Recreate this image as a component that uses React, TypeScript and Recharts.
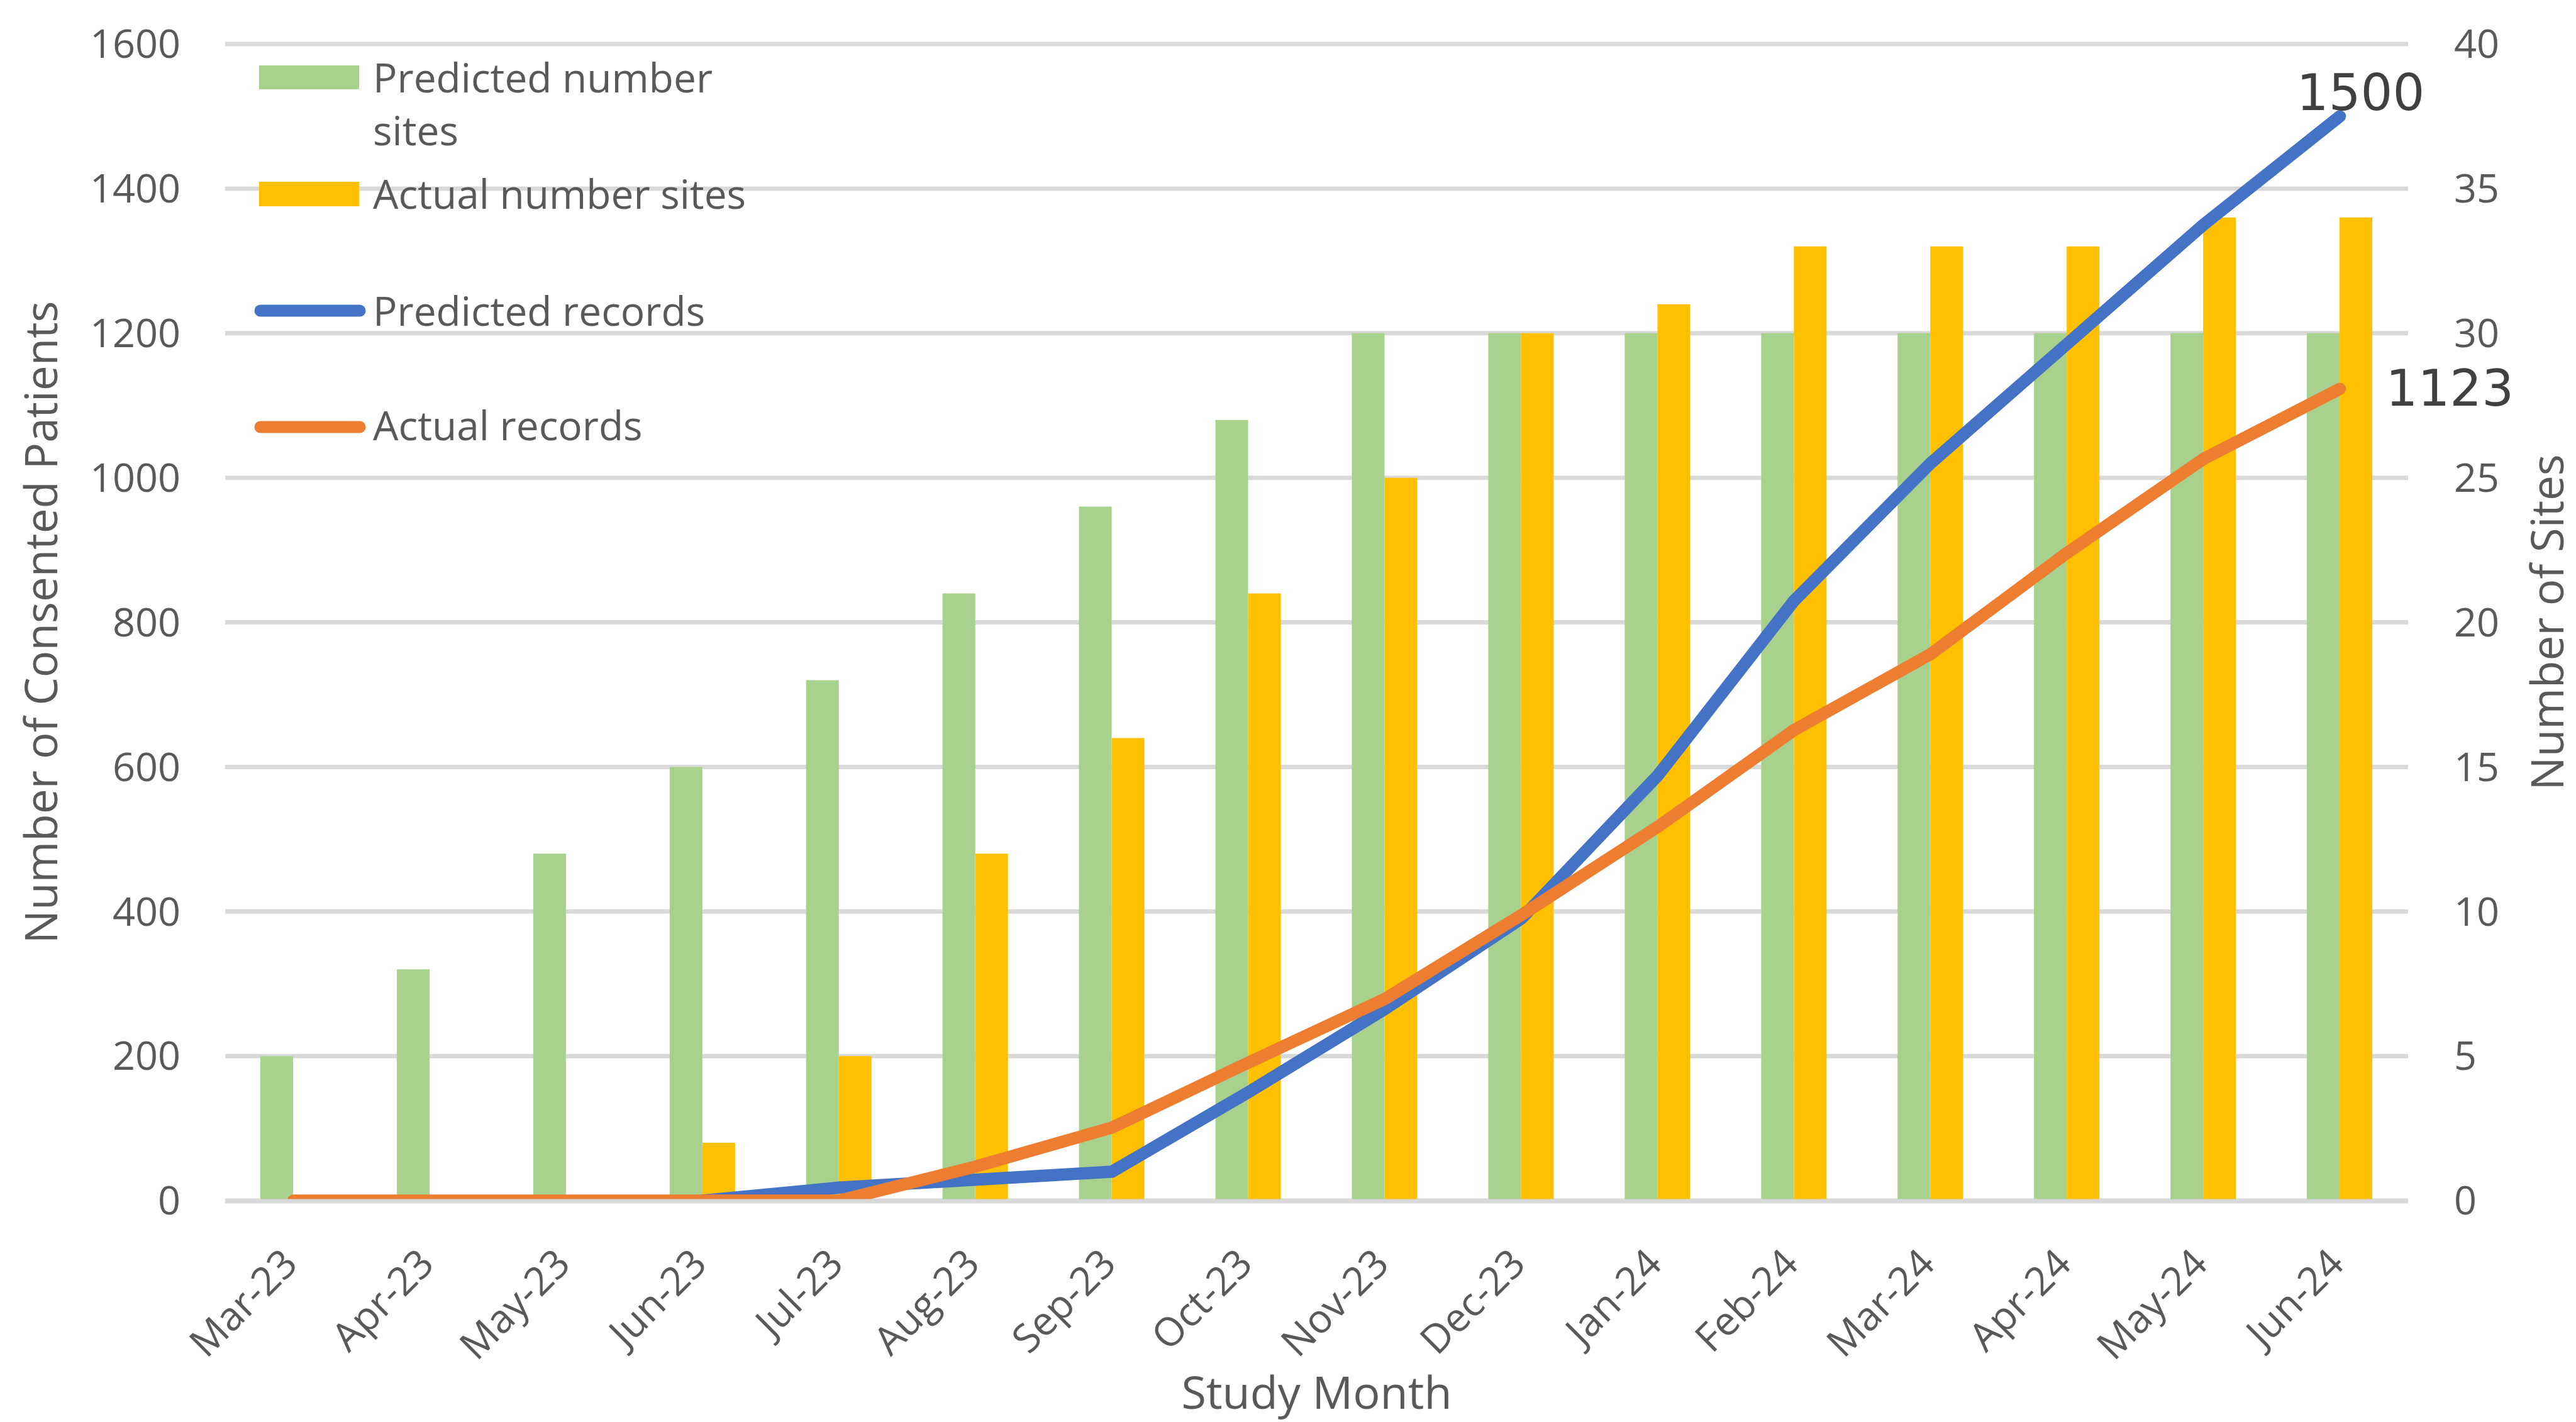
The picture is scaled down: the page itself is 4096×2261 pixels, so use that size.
import React from 'react';
import { ComposedChart, Bar, Line, XAxis, YAxis, CartesianGrid, Legend, LabelList } from 'recharts';

const months = ['Mar-23','Apr-23','May-23','Jun-23','Jul-23','Aug-23','Sep-23','Oct-23','Nov-23','Dec-23','Jan-24','Feb-24','Mar-24','Apr-24','May-24','Jun-24'];
const predictedSites = [5,8,12,15,18,21,24,27,30,30,30,30,30,30,30,30];
const actualSites = [0,0,0,2,5,12,16,21,25,30,31,33,33,33,34,34];
const predictedRecords: (number | null)[] = [null,null,null,0,18,29,40,150,265,390,588,830,1020,1185,1350,1500];
const actualRecords = [0,0,0,0,0,47,101,191,279,395,517,651,756,896,1026,1123];
const leftTicks = [0,200,400,600,800,1000,1200,1400,1600];
const rightTicks = [0,5,10,15,20,25,30,35,40];
const boundaryTicks = [0,1,2,3,4,5,6,7,8,9,10,11,12,13,14,15,16];

const seriesNames = {
  predSites: 'Predicted number sites',
  actSites: 'Actual number sites',
  predRec: 'Predicted records',
  actRec: 'Actual records',
};

const data = months.map((m, i) => ({
  month: m,
  predSites: predictedSites[i],
  actSites: actualSites[i],
  predRec: predictedRecords[i],
  actRec: actualRecords[i],
}));

const GREEN = '#A9D18E';
const YELLOW = '#FFC000';
const BLUE = '#4472C4';
const ORANGE = '#ED7D31';
const GRID = '#D9D9D9';
const TEXT = '#595959';
const FONT = '"Open Sans", sans-serif';

const MonthTick = (props: any) => {
  const { x, y, payload } = props;
  const tx = x + 10;
  const ty = y + 104;
  return (
    <text x={tx} y={ty} transform={`rotate(-45, ${tx}, ${ty})`} textAnchor="end"
      fontFamily={FONT} fontSize={63} fill={TEXT}>{payload.value}</text>
  );
};

const makeEndLabel = (dx: number, dy: number, anchor: string) => (props: any) => {
  const x = props.x ?? props.viewBox?.x;
  const y = props.y ?? props.viewBox?.y;
  const idx = props.index;
  const isLast = idx !== undefined ? idx === months.length - 1 : false;
  if (!isLast || x == null || y == null) return null;
  return (
    <text x={x + dx} y={y + dy} textAnchor={anchor as any} fontFamily='"DejaVu Sans", sans-serif'
      fontSize={80} fill="#404040">{props.value}</text>
  );
};

const LegendBox = () => {
  const txt = { position: 'absolute' as const, fontFamily: FONT, fontSize: 64, color: TEXT, whiteSpace: 'nowrap' as const, lineHeight: '84px' };
  return (
    <div style={{ position: 'relative', width: 1300, height: 760 }}>
      <div style={{ position: 'absolute', left: 412, top: 104, width: 159, height: 38, background: GREEN }} />
      <div style={{ ...txt, left: 593, top: 81 }}>Predicted number<br />sites</div>
      <div style={{ position: 'absolute', left: 412, top: 289, width: 159, height: 39, background: YELLOW }} />
      <div style={{ ...txt, left: 593, top: 266 }}>{seriesNames.actSites}</div>
      <svg style={{ position: 'absolute', left: 0, top: 0 }} width={1300} height={760}>
        <line x1={414} x2={572} y1={494} y2={494} stroke={BLUE} strokeWidth={19} strokeLinecap="round" />
        <line x1={414} x2={572} y1={679} y2={679} stroke={ORANGE} strokeWidth={19} strokeLinecap="round" />
      </svg>
      <div style={{ ...txt, left: 593, top: 452 }}>{seriesNames.predRec}</div>
      <div style={{ ...txt, left: 593, top: 634 }}>{seriesNames.actRec}</div>
    </div>
  );
};

export default function App() {
  return (
    <div style={{ position: 'absolute', left: 0, top: 0, width: 4096, height: 2261, background: '#fff' }}>
      <ComposedChart width={4096} height={2261} data={data}
        margin={{ top: 70, right: 0, bottom: 350, left: 0 }} barGap={0}>
        <CartesianGrid yAxisId="left" xAxisId="cat" vertical={false} stroke={GRID} strokeWidth={7} />
        <XAxis xAxisId="grid" type="number" domain={[0, 16]} ticks={boundaryTicks} allowDataOverflow
          height={1} tick={false} tickSize={23} tickLine={{ stroke: GRID, strokeWidth: 8 }}
          axisLine={{ stroke: GRID, strokeWidth: 7 }} />
        <XAxis xAxisId="cat" dataKey="month" height={1} axisLine={false} tickLine={false}
          tickSize={0} tickMargin={0} interval={0} tick={<MonthTick />}
          label={{ value: 'Study Month', position: 'bottom', offset: 279, fill: TEXT, fontSize: 72, fontFamily: FONT }} />
        <YAxis yAxisId="left" width={358} domain={[0, 1600]} ticks={leftTicks} axisLine={false} tickLine={false}
          allowDataOverflow tickSize={0} tickMargin={71} tick={{ fill: TEXT, fontSize: 63, fontFamily: FONT }}
          label={{ value: 'Number of Consented Patients', angle: -90, position: 'insideLeft', offset: 66,
            style: { textAnchor: 'middle' }, fill: TEXT, fontSize: 71, fontFamily: FONT }} />
        <YAxis yAxisId="right" orientation="right" width={267} domain={[0, 40]} ticks={rightTicks} axisLine={false}
          tickLine={false} tickSize={0} tickMargin={73} tick={{ fill: TEXT, fontSize: 63, fontFamily: FONT, textAnchor: 'start' }}
          label={{ value: 'Number of Sites', angle: -90, position: 'insideRight', offset: 45,
            style: { textAnchor: 'middle' }, fill: TEXT, fontSize: 71, fontFamily: FONT }} />
        <Bar xAxisId="cat" yAxisId="right" dataKey="predSites" name={seriesNames.predSites} fill={GREEN} barSize={52} isAnimationActive={false} />
        <Bar xAxisId="cat" yAxisId="right" dataKey="actSites" name={seriesNames.actSites} fill={YELLOW} barSize={52} isAnimationActive={false} />
        <Line xAxisId="cat" yAxisId="left" type="linear" dataKey="predRec" name={seriesNames.predRec} stroke={BLUE}
          strokeWidth={19.5} dot={false} strokeLinejoin="round" strokeLinecap="round" isAnimationActive={false}>
          <LabelList dataKey="predRec" content={makeEndLabel(33, -10, 'middle')} />
        </Line>
        <Line xAxisId="cat" yAxisId="left" type="linear" dataKey="actRec" name={seriesNames.actRec} stroke={ORANGE}
          strokeWidth={19.5} dot={false} strokeLinejoin="round" strokeLinecap="round" isAnimationActive={false}>
          <LabelList dataKey="actRec" content={makeEndLabel(73, 27, 'start')} />
        </Line>
        <Legend layout="vertical" align="center" verticalAlign="middle" content={<LegendBox />}
          wrapperStyle={{ position: 'absolute', left: 0, top: 0, width: 1300, height: 760 }} />
      </ComposedChart>
    </div>
  );
}
